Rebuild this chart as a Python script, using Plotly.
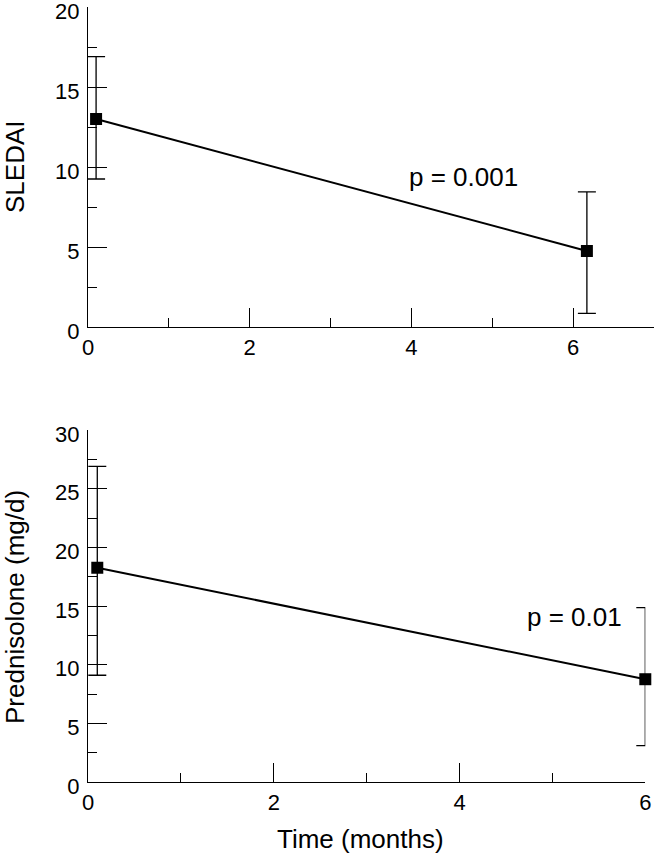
import plotly.graph_objects as go

# Data
time_top = [0.1, 6.17]
sledai = [13.0, 4.75]
sledai_err_plus = [3.9, 3.7]
sledai_err_minus = [3.75, 3.9]

time_bottom = [0.1, 6.0]
pred = [18.26, 8.76]
pred_err_plus = [8.64, 6.1]
pred_err_minus = [9.16, 5.66]

p_top = "p = 0.001"
p_bottom = "p = 0.01"

W, H = 654, 853
ml, mr, mt, mb = 88, 0, 7, 71
pw = W - ml - mr
ph = H - mt - mb

def ydom(top_px, bottom_px):
    return [(H - mb - bottom_px) / ph, (H - mb - top_px) / ph]

FONT = "Liberation Sans, Arial, sans-serif"
fig = go.Figure()

line_style = dict(color="black", width=2)
marker_style = dict(symbol="square", size=12, color="black")

fig.add_trace(go.Scatter(
    x=time_top, y=sledai, mode="lines+markers", line=line_style, marker=marker_style,
    error_y=dict(type="data", symmetric=False, array=sledai_err_plus, arrayminus=sledai_err_minus,
                 color="black", thickness=1.3, width=9),
    xaxis="x", yaxis="y", cliponaxis=False, showlegend=False))

fig.add_trace(go.Scatter(
    x=time_bottom, y=pred, mode="lines+markers", line=line_style, marker=marker_style,
    error_y=dict(type="data", symmetric=False, array=pred_err_plus, arrayminus=pred_err_minus,
                 color="black", thickness=1.3, width=9),
    xaxis="x2", yaxis="y2", cliponaxis=False, showlegend=False))

axis_common = dict(showline=True, linecolor="black", linewidth=1.3, showgrid=False, zeroline=False,
                   automargin=False, ticklabeloverflow="allow",
                   ticks="inside", ticklen=19, tickwidth=1.3, tickcolor="black",
                   tickfont=dict(family=FONT, size=22, color="black"))
yaxis_extra = dict(ticklabelshift=4, ticklabelstandoff=3)

minor_common = dict(ticks="inside", ticklen=9, tickwidth=1.3, tickcolor="black")

title_font = dict(family=FONT, size=26, color="black")

fig.update_layout(
    template="none",
    width=W, height=H,
    margin=dict(l=ml, r=mr, t=mt, b=mb, pad=0, autoexpand=False),
    paper_bgcolor="white", plot_bgcolor="white",
    font=dict(family=FONT, color="black"),
    xaxis=dict(axis_common, domain=[0, 1], range=[0, 7], tick0=0, dtick=2, anchor="y",
               minor=dict(minor_common, dtick=1, tick0=0)),
    yaxis=dict(axis_common, **yaxis_extra, domain=ydom(7, 327), range=[0, 20], tick0=0, dtick=5, anchor="x",
               minor=dict(minor_common, dtick=2.5, tick0=0)),
    xaxis2=dict(axis_common, domain=[0, (645.3 - ml) / pw], range=[0, 6], tick0=0, dtick=2, anchor="y2",
                minor=dict(minor_common, dtick=1, tick0=0)),
    yaxis2=dict(axis_common, **yaxis_extra, domain=ydom(430, 782), range=[0, 30], tick0=0, dtick=5, anchor="x2",
                minor=dict(minor_common, dtick=2.5, tick0=0)),
    annotations=[
        dict(text=p_top, x=4.65, y=9.4, xref="x", yref="y", showarrow=False,
             xanchor="center", yanchor="middle", font=dict(family=FONT, size=26, color="black")),
        dict(text=p_bottom, x=5.24, y=14.1, xref="x2", yref="y2", showarrow=False,
             xanchor="center", yanchor="middle", font=dict(family=FONT, size=26, color="black")),
        dict(text="SLEDAI", x=0, xref="paper", xshift=-73, y=sum(ydom(7, 327)) / 2, yref="paper",
             xanchor="center", yanchor="middle", textangle=-90, showarrow=False, font=title_font),
        dict(text="Prednisolone (mg/d)", x=0, xref="paper", xshift=-73, y=(H - mb - 607) / ph, yref="paper",
             xanchor="center", yanchor="middle", textangle=-90, showarrow=False, font=title_font),
        dict(text="Time (months)", x=(360 - ml) / pw, xref="paper", y=0, yref="paper", yshift=-57,
             xanchor="center", yanchor="middle", showarrow=False, font=title_font),
    ],
)

fig.write_html("out.html", config={"displayModeBar": False},
               post_script="document.body.style.margin='0';document.body.style.overflow='hidden';")
